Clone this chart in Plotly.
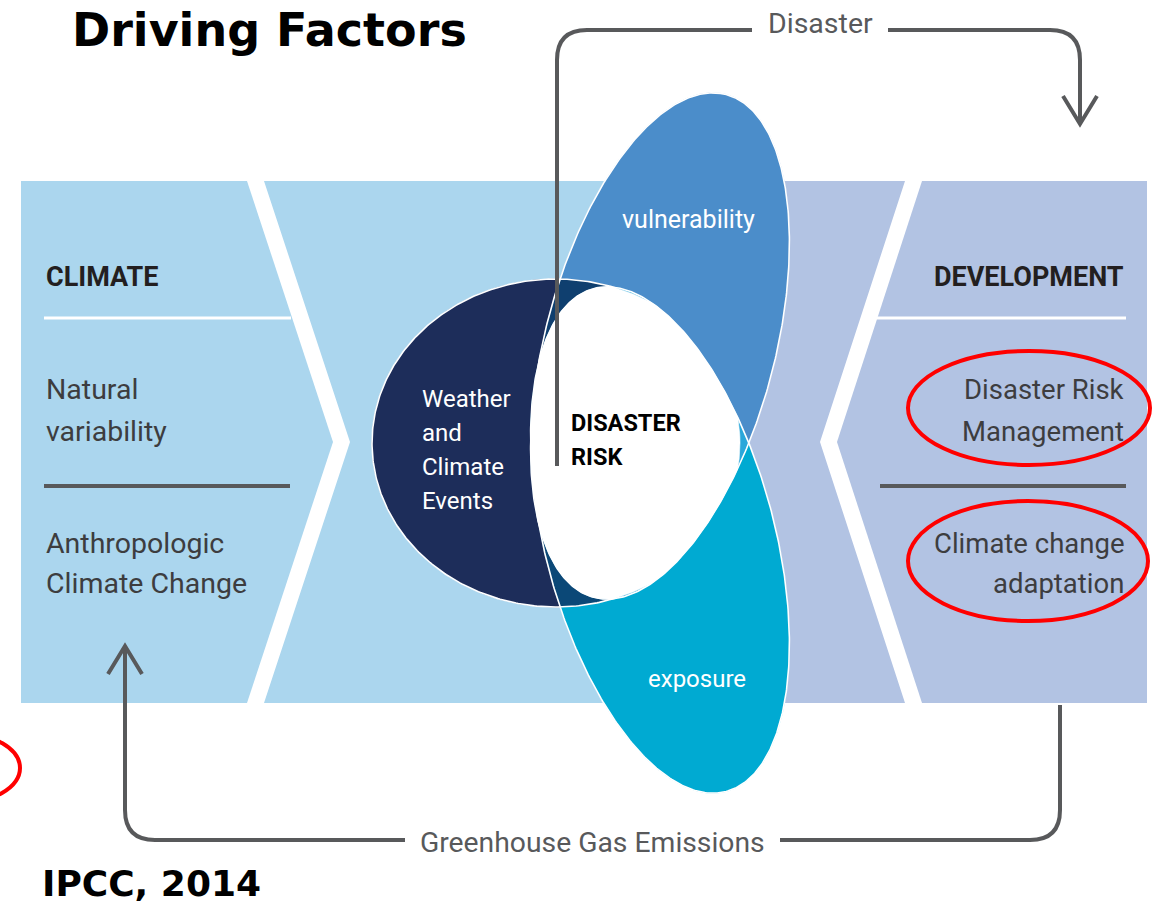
import numpy as np
import plotly.graph_objects as go

# ---------------- content (text) ----------------
title_text = "Driving Factors"
source_text = "IPCC, 2014"
climate_title = "CLIMATE"
climate_lines = ["Natural", "variability", "Anthropologic", "Climate Change"]
development_title = "DEVELOPMENT"
development_lines = ["Disaster Risk", "Management", "Climate change", "adaptation"]
hazard_lines = ["Weather", "and", "Climate", "Events"]
risk_lines = ["DISASTER", "RISK"]
petal_labels = ["vulnerability", "exposure"]
loop_labels = ["Disaster", "Greenhouse Gas Emissions"]

# ---------------- layout constants ----------------
W, H = 1155, 907
NARROW = "Roboto, Liberation Sans Narrow, sans-serif"
HEAD = "DejaVu Sans, Open Sans, sans-serif"
GRAY = "#58595B"
TXT = "#3D3D3F"
DARK = "#231F20"

C_LBLUE = "#ABD6EE"
C_LAV = "#B2C3E3"
C_NAVY = "#1D2D5A"
C_VULN = "#4B8DCA"
C_EXPO = "#00AAD2"
C_NV = "#0F3F6F"
C_NE = "#0B4877"
C_VE = "#2AA7DA"
SPLIT_X = 615


def ellipse_pts(cx, cy, a, b, ang_deg, n=480, t0=0.0, t1=2 * np.pi, closed=True):
    th = np.deg2rad(ang_deg)
    t = np.linspace(t0, t1, n, endpoint=not closed)
    ux, uy = np.cos(th), np.sin(th)
    vx, vy = -uy, ux
    x = cx + a * np.cos(t) * ux + b * np.sin(t) * vx
    y = cy + a * np.cos(t) * uy + b * np.sin(t) * vy
    return list(zip(x.tolist(), y.tolist()))


def signed_area(poly):
    s = 0.0
    for i in range(len(poly)):
        x0, y0 = poly[i]
        x1, y1 = poly[(i + 1) % len(poly)]
        s += x0 * y1 - x1 * y0
    return s / 2


def clip(subject, clipper):
    orient = 1 if signed_area(clipper) > 0 else -1
    out = list(subject)
    n = len(clipper)
    for i in range(n):
        if not out:
            break
        ax, ay = clipper[i]
        bx, by = clipper[(i + 1) % n]

        def side(p):
            return orient * ((bx - ax) * (p[1] - ay) - (by - ay) * (p[0] - ax))

        inp = out
        out = []
        prev = inp[-1]
        sp = side(prev)
        for cur in inp:
            sc = side(cur)
            if sc >= 0:
                if sp < 0:
                    t = sp / (sp - sc)
                    out.append((prev[0] + t * (cur[0] - prev[0]), prev[1] + t * (cur[1] - prev[1])))
                out.append(cur)
            elif sp >= 0:
                t = sp / (sp - sc)
                out.append((prev[0] + t * (cur[0] - prev[0]), prev[1] + t * (cur[1] - prev[1])))
            prev, sp = cur, sc
    return out


NAVY_E = (556, 443, 184, 164, 0)
VULN_E = (660, 346, 260, 115, -75.25)
EXPO_E = (660, 540, 260, 115, 75.25)

navy = ellipse_pts(*NAVY_E)
vuln = ellipse_pts(*VULN_E)
expo = ellipse_pts(*EXPO_E)
left_half = [(-10, -10), (SPLIT_X, -10), (SPLIT_X, H + 10), (-10, H + 10)]

nv = clip(clip(navy, vuln), left_half)
ne = clip(clip(navy, expo), left_half)
ve = clip(vuln, expo)
nve = clip(clip(navy, vuln), expo)

fig = go.Figure()


def add_poly(poly, color):
    xs = [p[0] for p in poly] + [poly[0][0]]
    ys = [p[1] for p in poly] + [poly[0][1]]
    fig.add_trace(go.Scatter(x=xs, y=ys, mode="lines", fill="toself", fillcolor=color,
                             line=dict(width=0.6, color=color), hoverinfo="skip", showlegend=False))


def add_outline(pts, closed=True):
    xs = [p[0] for p in pts] + ([pts[0][0]] if closed else [])
    ys = [p[1] for p in pts] + ([pts[0][1]] if closed else [])
    fig.add_trace(go.Scatter(x=xs, y=ys, mode="lines", line=dict(width=1.6, color="white"),
                             hoverinfo="skip", showlegend=False))


for poly, col in [(navy, C_NAVY), (vuln, C_VULN), (expo, C_EXPO), (nv, C_NV), (ne, C_NE),
                  (ve, C_VE), (nve, "#FFFFFF")]:
    add_poly(poly, col)

# white outlines (navy only on its visible left side)
c = (SPLIT_X - NAVY_E[0]) / NAVY_E[2]
tA = float(np.arccos(c))
add_outline(ellipse_pts(*NAVY_E, n=300, t0=tA, t1=2 * np.pi - tA, closed=False), closed=False)
add_outline(vuln)
add_outline(expo)

shapes = []
# panels
panel_paths = [
    ("M 21,181 L 247,181 L 333,442 L 247,703 L 21,703 Z", C_LBLUE),
    ("M 264,181 L 700,181 L 700,703 L 264,703 L 350,442 Z", C_LBLUE),
    ("M 700,181 L 905,181 L 820,442 L 905,703 L 700,703 Z", C_LAV),
    ("M 922,181 L 1147,181 L 1147,703 L 922,703 L 837,442 Z", C_LAV),
]
for p, col in panel_paths:
    shapes.append(dict(type="path", path=p, fillcolor=col, line=dict(width=0), layer="below",
                       xref="x", yref="y"))

# separator lines in panels
shapes += [
    dict(type="line", x0=44, x1=291, y0=318, y1=318, line=dict(color="white", width=3), layer="below"),
    dict(type="line", x0=44, x1=290, y0=486, y1=486, line=dict(color=GRAY, width=4), layer="below"),
    dict(type="line", x0=877, x1=1126, y0=318, y1=318, line=dict(color="white", width=3), layer="below"),
    dict(type="line", x0=880, x1=1126, y0=486, y1=486, line=dict(color=GRAY, width=4), layer="below"),
]

# loops (connectors)
loop_paths = [
    "M 557,466 L 557,60 Q 557,30 587,30 L 752,30",
    "M 888,30 L 1050,30 Q 1080,30 1080,60 L 1080,124",
    "M 1063,96 L 1080,124 L 1097,96",
    "M 1060,705 L 1060,810 Q 1060,840 1030,840 L 780,840",
    "M 405,840 L 155,840 Q 125,840 125,810 L 125,646",
    "M 108,674 L 125,646 L 142,674",
]
for p in loop_paths:
    shapes.append(dict(type="path", path=p, line=dict(color=GRAY, width=4),
                       fillcolor="rgba(0,0,0,0)", layer="above", xref="x", yref="y"))

# red highlight ellipses
for x0, y0, x1, y1 in [(908, 351, 1150, 465), (908, 501, 1148, 621), (-100, 733, 20, 803)]:
    shapes.append(dict(type="circle", x0=x0, y0=y0, x1=x1, y1=y1,
                       line=dict(color="#FF0000", width=4), layer="above"))

ann = []


def txt(x, y, s, size, color, anchor="left", bold=False, family=NARROW, yanchor="middle"):
    ann.append(dict(x=x, y=y, xref="x", yref="y", text=s,
                    showarrow=False, xanchor=anchor, yanchor=yanchor,
                    font=dict(family=family, size=size, color=color,
                              weight="bold" if bold else "normal")))


txt(70, 0.5, title_text, 46, "black", bold=True, family=HEAD, yanchor="top")
txt(40, 906, source_text, 36, "black", bold=True, family=HEAD, yanchor="bottom")

txt(44, 277, climate_title, 27, DARK, bold=True)
for s, y in zip(climate_lines, [389, 431, 543, 583]):
    txt(44, y, s, 28.5, TXT)
txt(1126, 277, development_title, 27, DARK, anchor="right", bold=True)
for s, y in zip(development_lines, [389, 431, 543, 583]):
    txt(1126, y, s, 27.5, TXT, anchor="right")

for s, y in zip(hazard_lines, [399, 433, 467, 501]):
    txt(420, y, s, 24, "white")
for s, y in zip(risk_lines, [423, 457]):
    txt(569, y, s, 23.5, "black", bold=True)

txt(688, 219, petal_labels[0], 25, "white", anchor="center")
txt(697, 679, petal_labels[1], 24, "white", anchor="center")

txt(820, 23, loop_labels[0], 28.5, GRAY, anchor="center")
txt(592, 842, loop_labels[1], 28.3, GRAY, anchor="center")

fig.update_layout(
    width=W, height=H,
    margin=dict(l=0, r=0, t=0, b=0),
    paper_bgcolor="white", plot_bgcolor="white",
    xaxis=dict(range=[0, W], visible=False, fixedrange=True, autorange=False),
    yaxis=dict(range=[H, 0], visible=False, fixedrange=True, autorange=False),
    shapes=shapes, annotations=ann, showlegend=False,
)

fig.write_html("out.html", config={"displayModeBar": False},
               post_script="document.body.style.margin='0px';document.body.style.overflow='hidden';")
